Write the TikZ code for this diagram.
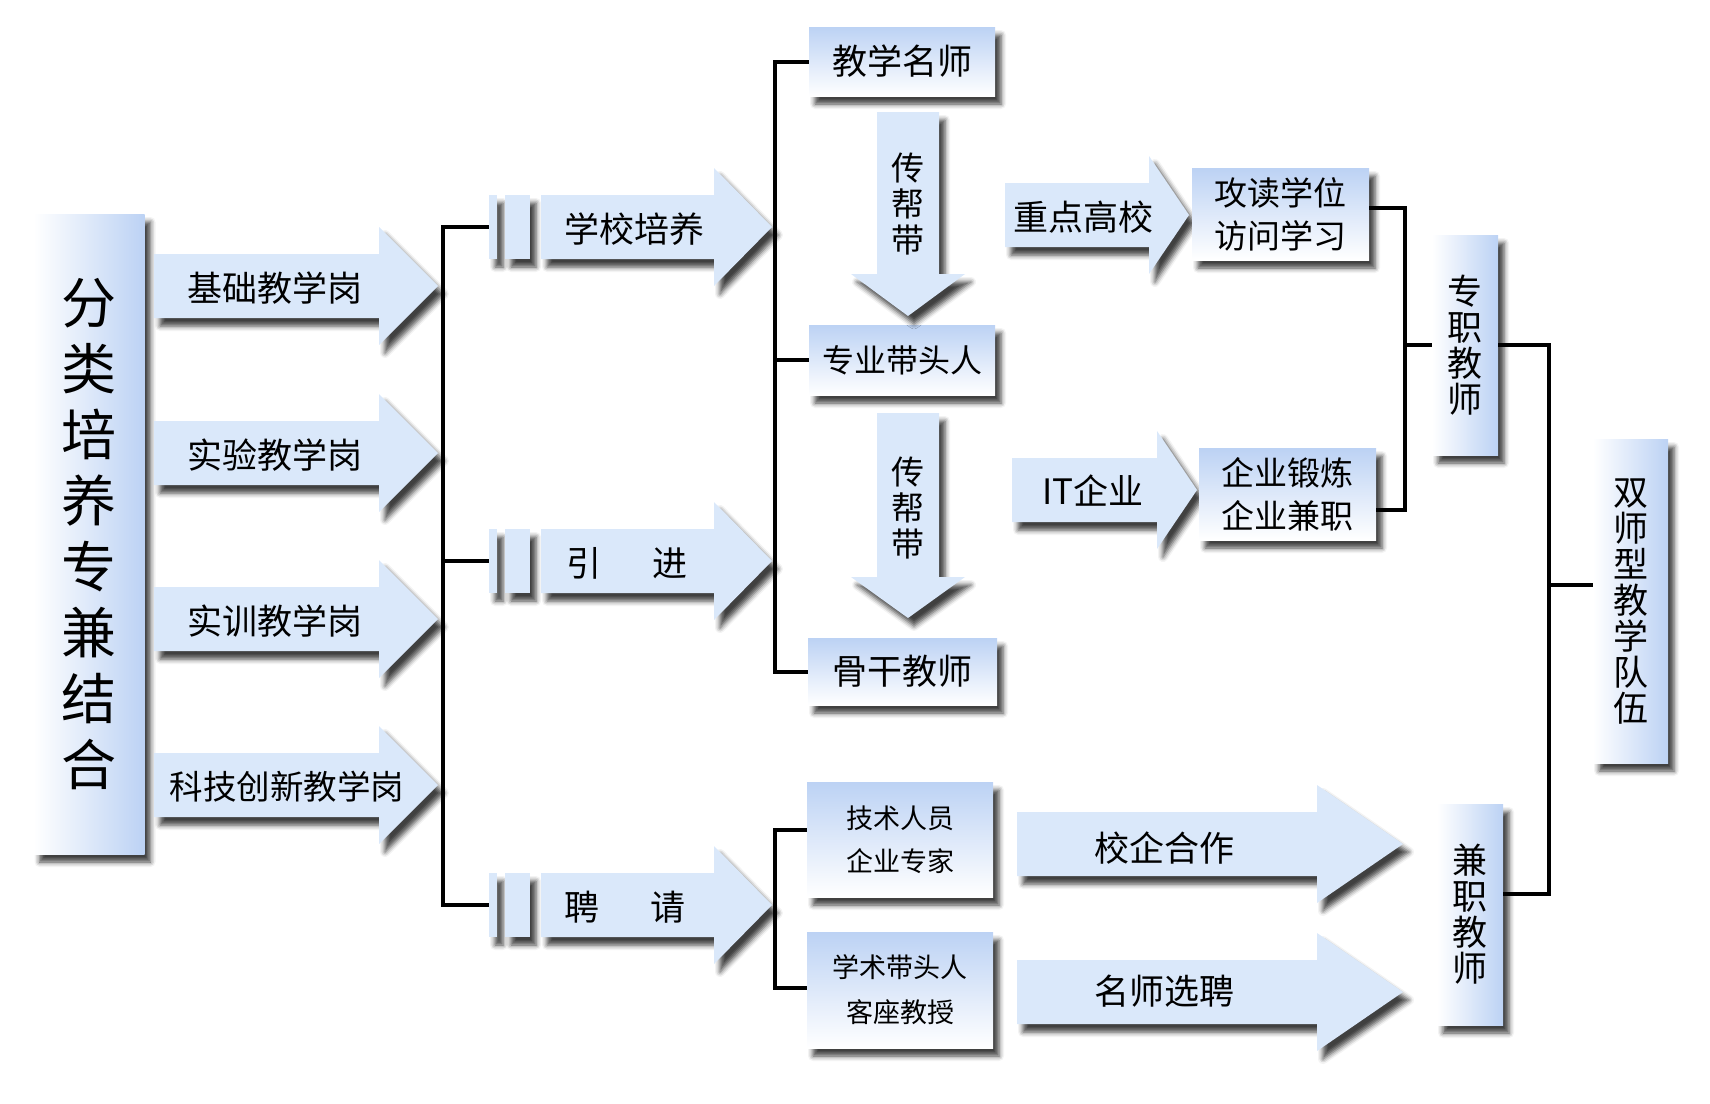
\documentclass[tikz,border=0pt]{standalone}
\usepackage{fontspec}
\newfontfamily\cjk{Noto Sans CJK SC}
\usetikzlibrary{shadows.blur}

\definecolor{arrowblue}{HTML}{DAE8FA}
\definecolor{boxblue}{HTML}{BCD2F4}

\tikzset{
  link/.style={line width=4pt},
  dropshade/.style={blur shadow={shadow xshift=6pt, shadow yshift=-8pt,
      shadow blur radius=5pt, shadow opacity=75}},
  arrowfill/.style={fill=arrowblue, dropshade},
  stripe/.style={fill=arrowblue, dropshade, minimum height=64, inner sep=0pt},
  hbox/.style={top color=boxblue, bottom color=white, dropshade, inner sep=0pt,
      align=center, font=\cjk\fontsize{35}{43}\selectfont},
  vbox/.style={left color=white, right color=boxblue, dropshade, inner sep=0pt,
      align=center, font=\cjk\fontsize{35}{36}\selectfont},
  tagtext/.style={font=\cjk\fontsize{35}{42}\selectfont, inner sep=0pt},
  colltext/.style={font=\cjk\fontsize{33}{36}\selectfont, inner sep=0pt, align=center}
}

% block arrow pointing right: tail x, head x, tip x, centre y
\newcommand{\rightblock}[4]{%
  \fill[arrowfill] (#1,#4-32) -- (#2,#4-32) -- (#2,#4-59) -- (#3,#4)
    -- (#2,#4+59) -- (#2,#4+32) -- (#1,#4+32) -- cycle;}
% block arrow pointing down: centre x, top y, head y, tip y
\newcommand{\downblock}[4]{%
  \fill[arrowfill] (#1-31,#2) -- (#1+31,#2) -- (#1+31,#3) -- (#1+57,#3)
    -- (#1,#4) -- (#1-57,#3) -- (#1-31,#3) -- cycle;}

\begin{document}
\begin{tikzpicture}[x=1pt,y=-1pt]
\useasboundingbox (0,0) rectangle (1710,1103);

% left column
\node[vbox, minimum width=111, minimum height=640,
      font=\cjk\fontsize{55}{66}\selectfont] (root) at (89,534)
      {分\\类\\培\\养\\专\\兼\\结\\合};
\foreach \y in {286,453,619,785} {\rightblock{154}{379}{438}{\y}}
\node[tagtext] (a1) at (275,288) {基础教学岗};
\node[tagtext] (a2) at (275,455) {实验教学岗};
\node[tagtext] (a3) at (275,621) {实训教学岗};
\node[tagtext, font=\cjk\fontsize{33.5}{40}\selectfont] (a4) at (287,787) {科技创新教学岗};

% three ways
\foreach \i/\y in {1/227,2/561,3/905} {
  \node[stripe, minimum width=8] (s\i) at (493,\y) {};
  \node[stripe, minimum width=25] (w\i) at (517.5,\y) {};
  \rightblock{541}{714}{772}{\y}
}
\node[tagtext] (r1) at (634,229) {学校培养};
\node[tagtext] (r2) at (627,563) {引\hspace{52pt}进};
\node[tagtext] (r3) at (625,907) {聘\hspace{52pt}请};

% school track
\node[hbox, minimum width=186, minimum height=69] (m1) at (902,61.5) {教学名师};
\node[hbox, minimum width=186, minimum height=70,
      font=\cjk\fontsize{32}{40}\selectfont] (m2) at (902,360) {专业带头人};
\node[hbox, minimum width=189, minimum height=67] (m3) at (902.5,671.5) {骨干教师};
\downblock{908}{112}{274}{316}
\downblock{908}{413}{577}{618}
\node[colltext] (t1) at (908,204) {传\\帮\\带};
\node[colltext] (t2) at (908,508) {传\\帮\\带};

\rightblock{1005}{1149}{1189}{215}
\rightblock{1012}{1157}{1197}{490}
\node[tagtext] (k1) at (1083,217) {重点高校};
\node[tagtext] (k2) at (1093,491) {IT企业};
\node[hbox, minimum width=177, minimum height=92,
      font=\cjk\fontsize{33}{43}\selectfont] (g1) at (1280.5,214) {攻读学位\\访问学习};
\node[hbox, minimum width=177, minimum height=92,
      font=\cjk\fontsize{33}{43}\selectfont] (g2) at (1287.5,494) {企业锻炼\\企业兼职};

% hired track
\node[hbox, minimum width=186, minimum height=115,
      font=\cjk\fontsize{27}{43}\selectfont] (p1) at (900,839.5) {技术人员\\企业专家};
\node[hbox, minimum width=186, minimum height=116,
      font=\cjk\fontsize{27}{45}\selectfont] (p2) at (900,990) {学术带头人\\客座教授};
\rightblock{1017}{1317}{1403}{844}
\rightblock{1017}{1317}{1403}{992}
\node[tagtext] (q1) at (1164,848) {校企合作};
\node[tagtext] (q2) at (1164,991) {名师选聘};

% right column
\node[vbox, minimum width=66, minimum height=220] (z1) at (1465,345) {专\\职\\教\\师};
\node[vbox, minimum width=66, minimum height=221] (z2) at (1470,914.5) {兼\\职\\教\\师};
\node[vbox, minimum width=75, minimum height=324] (dual) at (1630.5,601)
      {双\\师\\型\\教\\学\\队\\伍};

% connectors
\draw[link] (s1.west) -- ++(-46,0) |- (s3.west);
\draw[link] (s2.west) -- ++(-46,0);
\draw[link] (m1.west) -- ++(-34,0) |- (m3.west);
\draw[link] (m2.west) -- ++(-34,0);
\draw[link] ([yshift=10pt]p1.west) -- ++(-32,0) |- ([yshift=2pt]p2.west);
\draw[link] ([yshift=6pt]g1.east) -- ++(36,0) |- ([yshift=-16pt]g2.east);
\draw[link] (z1.west) -- ++(-27,0);
\draw[link] (z1.east) -- ++(51,0) |- ([yshift=21pt]z2.east);
\draw[link] ([yshift=16pt]dual.west) -- ++(-44,0);
\end{tikzpicture}
\end{document}
